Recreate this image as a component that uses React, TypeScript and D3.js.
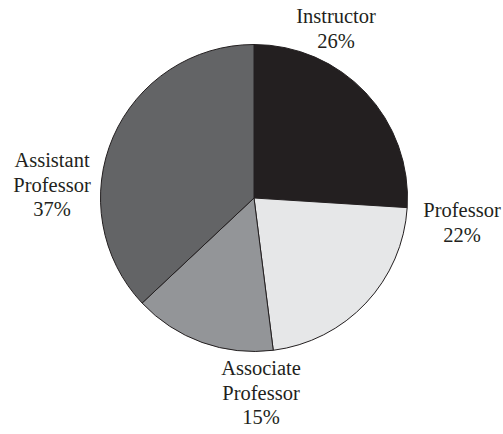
import React from "react";
import * as d3 from "d3";

const categories = ["Instructor", "Professor", "Associate Professor", "Assistant Professor"];
const values = [26, 22, 15, 37];
const labelLines = [["Instructor", "26%"], ["Professor", "22%"], ["Associate", "Professor", "15%"], ["Assistant", "Professor", "37%"]];
const colors = ["#231f20", "#e6e7e8", "#939598", "#636466"];

const W = 503, H = 434;
const cx = 254, cy = 198, R = 153.5;
// label anchor positions (center x, first baseline y)
const labelPos: [number, number][] = [[336, 23], [462, 217], [261, 375], [52, 167]];

export default function App() {
  const pie = d3.pie<number>().sort(null).value((d) => d);
  const arcs = pie(values);
  const arc = d3.arc<d3.PieArcDatum<number>>().innerRadius(0).outerRadius(R);
  return (
    <svg width={W} height={H} style={{ position: "absolute", left: 0, top: 0, background: "#fff" }}>
      <g transform={`translate(${cx},${cy})`}>
        {arcs.map((a, i) => (
          <path key={categories[i]} d={arc(a) || ""} fill={colors[i]} stroke="#231f20" strokeWidth={1} />
        ))}
      </g>
      {labelLines.map((lines, i) => (
        <text key={i} textAnchor="middle" fontFamily="'Liberation Serif', serif" fontSize={20.5} fill="#231f20">
          {lines.map((l, j) => (
            <tspan key={j} x={labelPos[i][0]} y={labelPos[i][1] + j * 24.5}>{l}</tspan>
          ))}
        </text>
      ))}
    </svg>
  );
}
